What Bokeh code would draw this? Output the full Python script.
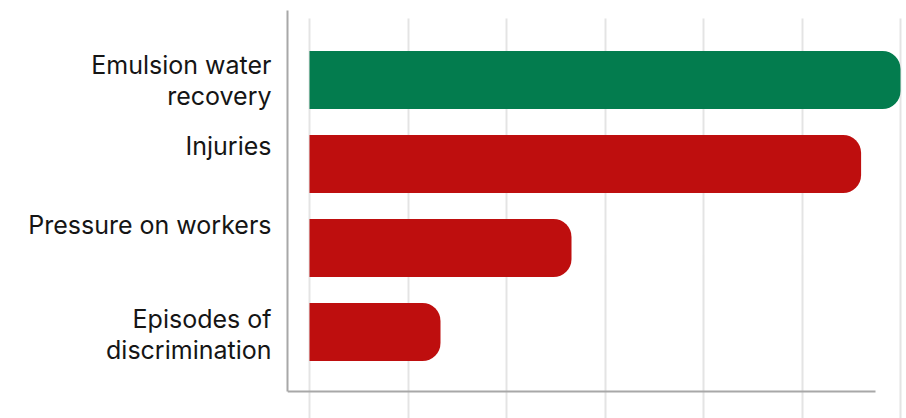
from bokeh.plotting import figure
from bokeh.models import FixedTicker, Range1d
from bokeh.embed import file_html
from bokeh.resources import INLINE

# ---- data ----
categories = ["Emulsion water\nrecovery", "Injuries", "Pressure on workers", "Episodes of\ndiscrimination"]
values = [60, 56, 26.6, 13.3]
bar_colors = ["#037C4E", "#BE0E0E", "#BE0E0E", "#BE0E0E"]
x_grid_ticks = [0, 10, 20, 30, 40, 50, 60]

# ---- layout (pixels) ----
W, H = 906, 418
frame_left, frame_top = 287, 10         # canvas coords of frame
px_per_unit_y = 84.0                    # distance between bars
first_bar_center = 69.5                 # px below frame top
bar_px = 58
px_per_unit_x = 9.85
zero_px = 22                            # px from frame left to value 0
axis_bottom_px = 381                    # x axis line, px below frame top
axis_right_px = 588                     # end of x axis line, px from frame left
grid_top_px = 8
label_shift_px = [0.5, -18.0, -23.0, 2.7]

frame_w = W - frame_left
frame_h = H - frame_top

y_top = -first_bar_center / px_per_unit_y
y_bottom = y_top + frame_h / px_per_unit_y
x_start = -zero_px / px_per_unit_x
x_end = x_start + frame_w / px_per_unit_x

idx = list(range(len(categories)))

p = figure(width=W, height=H, output_backend="svg", toolbar_location=None,
           x_range=Range1d(x_start, x_end), y_range=Range1d(y_bottom, y_top),
           x_axis_location="below", y_axis_location="left")
p.min_border = 0
p.min_border_left = frame_left
p.min_border_top = frame_top
p.min_border_right = 0
p.min_border_bottom = 0
p.outline_line_color = None
p.background_fill_color = "white"
p.border_fill_color = "white"

p.hbar(y=idx, left=0, right=values, height=bar_px / px_per_unit_y,
       fill_color=bar_colors, line_color=None, border_radius=(0, 18, 18, 0))

# x axis: only a line, fixed at the bottom
xa = p.xaxis[0]
xa.fixed_location = y_top + axis_bottom_px / px_per_unit_y
xa.ticker = FixedTicker(ticks=[])
xa.minor_tick_line_color = None
xa.major_tick_line_color = None
xa.major_label_text_font_size = "0px"
xa.axis_line_color = "#a8a8a8"
xa.axis_line_width = 2
xa.bounds = (x_start, x_start + axis_right_px / px_per_unit_x)

# grid
g = p.xgrid[0]
g.ticker = FixedTicker(ticks=x_grid_ticks)
g.grid_line_color = "#e4e4e4"
g.grid_line_width = 2
try:
    g.cross_bounds = (y_top + grid_top_px / px_per_unit_y, y_bottom)
except Exception:
    pass
p.ygrid.visible = False

# y axis with category labels
label_ticks = [round(i + s / px_per_unit_y, 4) for i, s in zip(idx, label_shift_px)]
ya = p.yaxis[0]
ya.ticker = FixedTicker(ticks=label_ticks)
ya.major_label_overrides = {t: c for t, c in zip(label_ticks, categories)}
ya.major_tick_line_color = None
ya.minor_tick_line_color = None
ya.major_tick_out = 0
ya.major_tick_in = 0
ya.major_label_standoff = 16
ya.major_label_text_font = "Inter"
ya.major_label_text_font_size = "25px"
ya.major_label_text_color = "#151515"
ya.major_label_text_line_height = 1.03
ya.axis_line_color = "#a8a8a8"
ya.axis_line_width = 2
ya.bounds = (y_top, y_top + axis_bottom_px / px_per_unit_y)

open("out.html", "w").write(file_html(p, INLINE))
